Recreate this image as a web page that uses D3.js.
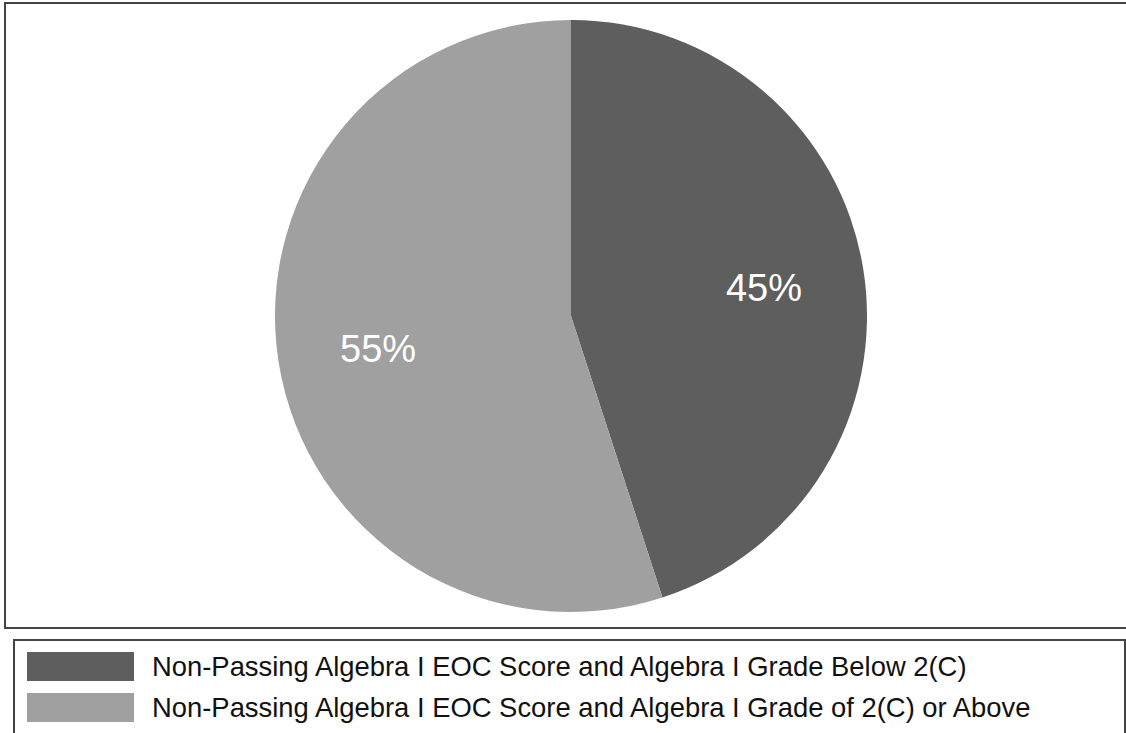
<!DOCTYPE html>
<html>
<head>
<meta charset="utf-8">
<script src="https://cdn.jsdelivr.net/npm/d3@7"></script>
<style>
  body { margin: 0; background: #fff; }
  svg { display: block; font-family: "Liberation Sans", Arial, sans-serif; }
</style>
</head>
<body>
<div id="chart"></div>
<script>
// data
const categories = [
  "Non-Passing Algebra I EOC Score and Algebra I Grade Below 2(C)",
  "Non-Passing Algebra I EOC Score and Algebra I Grade of 2(C) or Above"
];
const shares = [45, 55];
const sliceLabels = ["45%", "55%"];
const colors = ["#5e5e5e", "#a0a0a0"];

const W = 1126, H = 733;
const svg = d3.select("#chart").append("svg")
  .attr("width", W).attr("height", H);

// chart frame
svg.append("rect")
  .attr("x", 5).attr("y", 3)
  .attr("width", W + 10).attr("height", 625)
  .attr("fill", "none").attr("stroke", "#444").attr("stroke-width", 2);

const cx = 571, cy = 316, R = 296;
const pie = d3.pie().sort(null).value(d => d.value);
const arcs = pie(shares.map((v, i) => ({ value: v, i: i })));
const arc = d3.arc().innerRadius(0).outerRadius(R);
const labelArc = d3.arc().innerRadius(R * 0.66).outerRadius(R * 0.66);

const g = svg.append("g").attr("transform", `translate(${cx},${cy})`);
g.selectAll("path").data(arcs).join("path")
  .attr("d", arc)
  .attr("fill", d => colors[d.data.i]);

g.selectAll("text").data(arcs).join("text")
  .attr("transform", d => `translate(${labelArc.centroid(d)})`)
  .attr("text-anchor", "middle")
  .attr("dy", "0.4em")
  .attr("fill", "#fff")
  .attr("font-size", 38)
  .text(d => sliceLabels[d.data.i]);

// legend
const legend = svg.append("g");
legend.append("rect")
  .attr("x", 14).attr("y", 640)
  .attr("width", 1111).attr("height", 120)
  .attr("fill", "none").attr("stroke", "#444").attr("stroke-width", 2);

const rows = legend.selectAll("g.item").data(categories).join("g")
  .attr("class", "item")
  .attr("transform", (d, i) => `translate(27,${652 + i * 41})`);
rows.append("rect")
  .attr("width", 107).attr("height", 29)
  .attr("fill", (d, i) => colors[i]);
rows.append("text")
  .attr("x", 125).attr("y", 14.5)
  .attr("dy", "0.36em")
  .attr("font-size", 27.4)
  .attr("fill", "#111")
  .text(d => d);
</script>
</body>
</html>
